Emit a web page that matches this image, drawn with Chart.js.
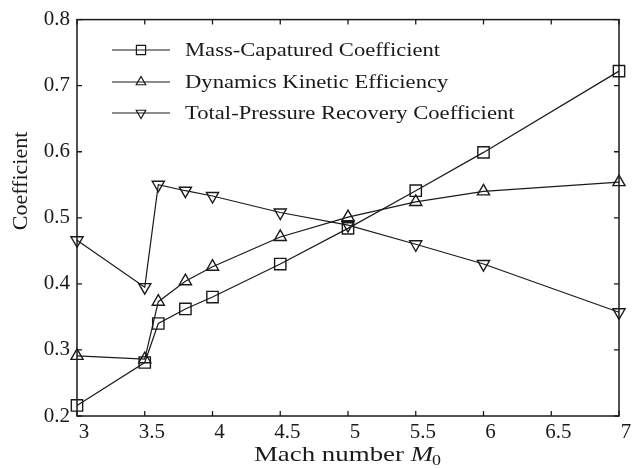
<!DOCTYPE html>
<html>
<head>
<meta charset="utf-8">
<script src="https://cdn.jsdelivr.net/npm/chart.js@4/dist/chart.umd.min.js"></script>
<style>
  html, body { margin: 0; padding: 0; background: #fff; }
  #wrap { width: 632px; height: 468px; }
</style>
</head>
<body>
<div id="wrap"><canvas id="coef_chart" width="632" height="468"></canvas></div>
<script>
// values
const machNumbers = [3, 3.5, 3.6, 3.8, 4, 4.5, 5, 5.5, 6, 7];
const massCaptured = [0.216, 0.281, 0.340, 0.362, 0.380, 0.430, 0.484, 0.541, 0.599, 0.722];
const kineticEff = [0.291, 0.286, 0.373, 0.404, 0.426, 0.471, 0.501, 0.524, 0.540, 0.554];
const pressureRecovery = [0.466, 0.395, 0.550, 0.541, 0.533, 0.508, 0.489, 0.460, 0.430, 0.357];
const seriesNames = ['Mass-Capatured Coefficient', 'Dynamics Kinetic Efficiency', 'Total-Pressure Recovery Coefficient'];

const serif = "'Liberation Serif', 'Times New Roman', serif";
const ink = '#1a1a1a';

function toPoints(values) {
    return machNumbers.map((m, i) => ({x: m, y: values[i]}));
}

function makeSet(label, values, style, radius, rotation) {
    return {
        label: label,
        data: toPoints(values),
        borderColor: ink,
        borderWidth: 1.2,
        pointStyle: style,
        pointRadius: radius,
        pointRotation: rotation,
        pointBorderColor: ink,
        pointBorderWidth: 1.4,
        pointBackgroundColor: 'rgba(0,0,0,0)',
        tension: 0,
        clip: false
    };
}

// the source figure's lettering is a bit wider than plain Times
function wideText(ctx, text, x, y, sx) {
    ctx.save();
    ctx.translate(x, y);
    ctx.scale(sx, 1);
    ctx.fillText(text, 0, 0);
    ctx.restore();
}

// frame, inward ticks, legend and axis titles
const decorations = {
    id: 'decorations',
    afterDraw(chart) {
        const ctx = chart.ctx;
        const area = chart.chartArea;
        const xs = chart.scales.x, ys = chart.scales.y;
        ctx.save();
        ctx.strokeStyle = ink;
        ctx.lineWidth = 1.5;
        ctx.strokeRect(area.left, area.top, area.right - area.left, area.bottom - area.top);

        ctx.lineWidth = 1.3;
        const tick = 5;
        ctx.beginPath();
        xs.ticks.forEach(t => {
            const px = xs.getPixelForValue(t.value);
            ctx.moveTo(px, area.bottom); ctx.lineTo(px, area.bottom - tick);
            ctx.moveTo(px, area.top); ctx.lineTo(px, area.top + tick);
        });
        ys.ticks.forEach(t => {
            const py = ys.getPixelForValue(t.value);
            ctx.moveTo(area.left, py); ctx.lineTo(area.left + tick, py);
            ctx.moveTo(area.right, py); ctx.lineTo(area.right - tick, py);
        });
        ctx.stroke();

        // legend
        const rows = [50, 82, 113];
        ctx.textBaseline = 'middle';
        ctx.textAlign = 'left';
        chart.data.datasets.forEach((ds, i) => {
            const y = rows[i];
            ctx.strokeStyle = ink;
            ctx.lineWidth = ds.borderWidth;
            ctx.beginPath();
            ctx.moveTo(112, y); ctx.lineTo(170, y);
            ctx.stroke();
            ctx.fillStyle = 'rgba(0,0,0,0)';
            Chart.helpers.drawPoint(ctx, {
                pointStyle: ds.pointStyle,
                radius: ds.pointRadius - 1.5,
                rotation: ds.pointRotation,
                borderWidth: ds.pointBorderWidth
            }, 141, y);
            ctx.fillStyle = ink;
            ctx.font = '19px ' + serif;
            wideText(ctx, ds.label, 185, y + 1, 1.19);
        });

        // x title with italic M and subscript 0
        const sx = 1.28;
        ctx.fillStyle = ink;
        ctx.textBaseline = 'alphabetic';
        const base = 461;
        const partA = 'Mach number ';
        ctx.font = '21px ' + serif;
        const wA = ctx.measureText(partA).width * sx;
        ctx.font = 'italic 21px ' + serif;
        const wM = ctx.measureText('M').width * sx;
        ctx.font = '14px ' + serif;
        const w0 = ctx.measureText('0').width * sx;
        let x0 = (area.left + area.right) / 2 - (wA + wM + w0) / 2;
        ctx.font = '21px ' + serif;
        wideText(ctx, partA, x0, base, sx);
        ctx.font = 'italic 21px ' + serif;
        wideText(ctx, 'M', x0 + wA, base, sx);
        ctx.font = '14px ' + serif;
        wideText(ctx, '0', x0 + wA + wM - 1, base + 4, sx);

        // y title
        ctx.translate(21, 181);
        ctx.rotate(-Math.PI / 2);
        ctx.font = '22px ' + serif;
        ctx.textAlign = 'center';
        ctx.textBaseline = 'middle';
        ctx.fillText('Coefficient', 0, 0);
        ctx.restore();
    }
};

function buildChart() {
    return new Chart(document.getElementById('coef_chart').getContext('2d'), {
        type: 'line',
        data: {
            datasets: [
                makeSet(seriesNames[0], massCaptured, 'rect', 8, 0),
                makeSet(seriesNames[1], kineticEff, 'triangle', 7, 0),
                makeSet(seriesNames[2], pressureRecovery, 'triangle', 7, 180)
            ]
        },
        options: {
            responsive: false,
            animation: false,
            devicePixelRatio: 1,
            layout: { padding: { left: 0, top: 16, right: 13, bottom: 0 } },
            plugins: {
                legend: { display: false },
                tooltip: { enabled: false }
            },
            scales: {
                x: {
                    type: 'linear',
                    min: 3,
                    max: 7,
                    grid: { display: false, drawTicks: false },
                    border: { display: false },
                    ticks: {
                        stepSize: 0.5,
                        padding: 4,
                        labelOffset: 7,
                        color: ink,
                        font: { family: serif, size: 21 },
                        callback: v => String(v)
                    },
                    afterFit: s => { s.height = 52; }
                },
                y: {
                    min: 0.2,
                    max: 0.8,
                    grid: { display: false, drawTicks: false },
                    border: { display: false },
                    ticks: {
                        stepSize: 0.1,
                        padding: 7,
                        color: ink,
                        font: { family: serif, size: 21 },
                        callback: v => v.toFixed(1)
                    },
                    afterFit: s => { s.width = 77; }
                }
            }
        },
        plugins: [decorations]
    });
}

Promise.all([
    document.fonts.load("21px 'Liberation Serif'"),
    document.fonts.load("italic 21px 'Liberation Serif'")
]).catch(() => null).then(() => buildChart());
</script>
</body>
</html>
